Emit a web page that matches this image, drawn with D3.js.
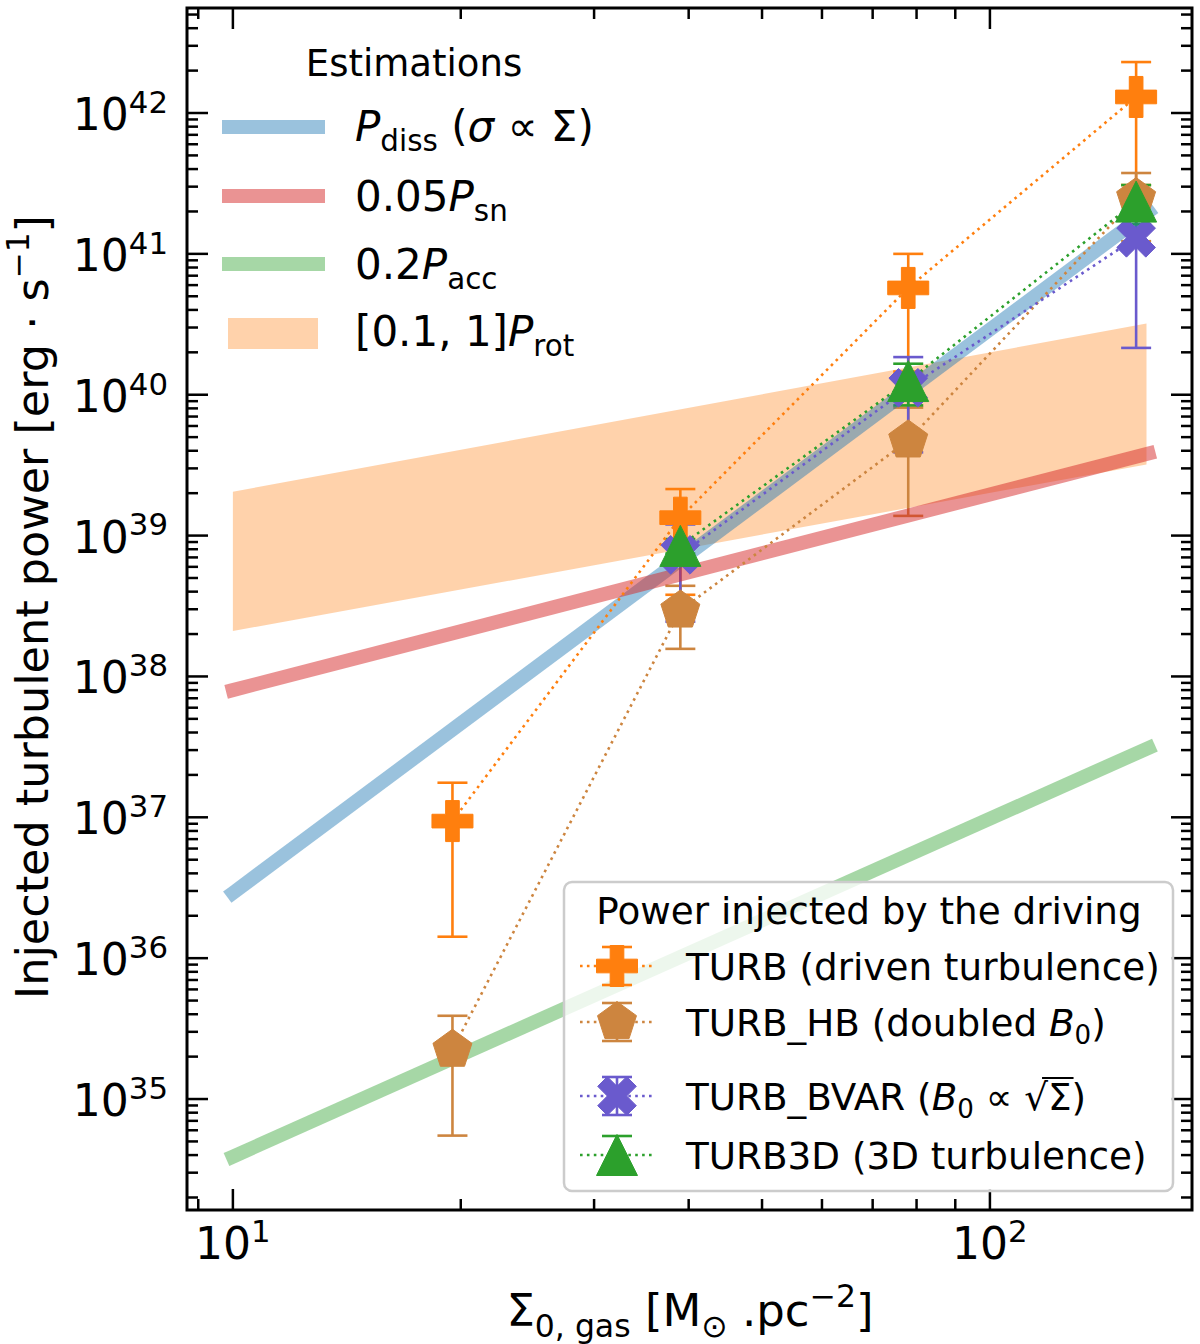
<!DOCTYPE html>
<html><head><meta charset="utf-8">
<script src="https://cdn.jsdelivr.net/npm/d3@7"></script>
<style>body{margin:0;background:#fff} text{font-family:"DejaVu Sans",sans-serif;fill:#000}</style>
</head><body><svg id="c" width="1200" height="1344"></svg>
<script>
// ---------------- DATA ----------------
const sigma = [19.5, 39, 78, 156];
const turbY  = [9.4e36, 1.34e39, 5.73e40, 1.3e42];
const turbLo = [1.42e36, 3.8e38, 1.46e40, 3.08e41];
const turbHi = [1.76e37, 2.14e39, 1.0e41, 2.3e42];
const hbY  = [2.24e35, 2.94e38, 4.74e39, 2.49e41];
const hbLo = [5.5e34, 1.57e38, 1.38e39, 1.23e41];
const hbHi = [3.9e35, 4.4e38, 8.1e39, 3.75e41];
const sigma3 = [39, 78, 156];
const bvarY  = [7.3e38, 1.12e40, 1.3e41];
const bvarLo = [2.45e38, 3.9e39, 2.15e40];
const bvarHi = [1.2e39, 1.85e40, 2.4e41];
const t3dY  = [8.45e38, 1.25e40, 2.35e41];
const t3dLo = [7.45e38, 8.4e39, 1.62e41];
const t3dHi = [9.45e38, 1.66e40, 3.08e41];

const estX = [10, 162];
const pdissY = [2.9e36, 2.0e41];
const psnY   = [8.0e37, 3.83e39];
const paccY  = [3.9e34, 3.11e37];
const rotX = [10, 161];
const rotLo = [2.1e38, 3.2e39];
const rotHi = [2.05e39, 3.2e40];

const xDomain = [8.6973, 184.9];
const yDomain = [1.63e34, 5.565e42];
const xMajor = [10, 100];
const xMajorExp = ["1", "2"];
const yMajorExp = [35, 36, 37, 38, 39, 40, 41, 42];

const estLegend = ["Estimations"];
const seriesLegendTitle = "Power injected by the driving";

// ---------------- SETUP ----------------
const svg = d3.select('#c');
const L = 187, R = 1192, T = 8, B = 1210;
const x = d3.scaleLog().domain(xDomain).range([L, R]);
const y = d3.scaleLog().domain(yDomain).range([B, T]);

svg.append('defs').append('clipPath').attr('id','clip')
  .append('rect').attr('x',L).attr('y',T).attr('width',R-L).attr('height',B-T);

function rich(g, px, py, parts, size, anchor) {
  const t = g.append('text').attr('x',px).attr('y',py).attr('font-size',size)
    .attr('text-anchor',anchor||'start');
  let shift = 0;
  parts.forEach(p => {
    const ts = t.append('tspan').text(p.t);
    let target = 0, fs = size;
    if (p.sub) { target = size*(p.sd||0.22); fs = size*0.7; }
    if (p.sup) { target = -size*(p.su||0.4); fs = size*0.7; }
    ts.attr('dy', target - shift).attr('font-size', fs);
    shift = target;
    if (p.i) ts.attr('font-style','italic');
  });
  return t;
}

const C = {turb:'#ff7f0e', hb:'#cd853f', bvar:'#6a5acd', t3d:'#2ca02c'};
const MS = 41;

function markerPath(type, s) {
  const h = s/2;
  if (type === 'plus' || type === 'x') {
    const pts = [[-1,-3],[1,-3],[1,-1],[3,-1],[3,1],[1,1],[1,3],[-1,3],[-1,1],[-3,1],[-3,-1],[-1,-1]]
      .map(([a,b]) => [a*s/6, b*s/6]);
    let P = pts;
    if (type === 'x') {
      const c = Math.SQRT1_2;
      P = pts.map(([a,b]) => [(a-b)*c, (a+b)*c]);
    }
    return 'M' + P.map(p => p.join(',')).join('L') + 'Z';
  }
  if (type === 'tri') return `M0,${-h}L${-h},${h}L${h},${h}Z`;
  if (type === 'pent') {
    const P = d3.range(5).map(k => {
      const a = (-90 + 72*k) * Math.PI/180;
      return [h*Math.cos(a), h*Math.sin(a)];
    });
    return 'M' + P.map(p => p.join(',')).join('L') + 'Z';
  }
}

// ---------------- BAND ----------------
const plot = svg.append('g').attr('clip-path','url(#clip)');
const bandData = rotX.map((v,i) => ({x:v, lo:rotLo[i], hi:rotHi[i]}));
plot.append('path').datum(bandData)
  .attr('d', d3.area().x(d => x(d.x)).y0(d => y(d.lo)).y1(d => y(d.hi)))
  .attr('fill', C.turb).attr('fill-opacity', 0.35);

// ---------------- ERROR BARS (below everything else) ----------------
const series = [
  {key:'turb', xs:sigma,  ys:turbY, lo:turbLo, hi:turbHi, m:'plus'},
  {key:'hb',   xs:sigma,  ys:hbY,   lo:hbLo,   hi:hbHi,   m:'pent'},
  {key:'bvar', xs:sigma3, ys:bvarY, lo:bvarLo, hi:bvarHi, m:'x'},
  {key:'t3d',  xs:sigma3, ys:t3dY,  lo:t3dLo,  hi:t3dHi,  m:'tri'},
];
const CAP = 15;
series.forEach(s => {
  const g = plot.append('g');
  s.xs.forEach((xv,i) => {
    const cx = x(xv);
    g.append('line').attr('x1',cx).attr('x2',cx).attr('y1',y(s.lo[i])).attr('y2',y(s.hi[i]))
      .attr('stroke',C[s.key]).attr('stroke-width',2.6);
    [s.lo[i], s.hi[i]].forEach(v => {
      g.append('line').attr('x1',cx-CAP).attr('x2',cx+CAP).attr('y1',y(v)).attr('y2',y(v))
        .attr('stroke',C[s.key]).attr('stroke-width',2.6);
    });
  });
});

// ---------------- ESTIMATION LINES ----------------
const line = d3.line().x(d => x(d[0])).y(d => y(d[1]));
[[pdissY,'#1f77b4',0.45],[psnY,'#d62728',0.5],[paccY,'#2ca02c',0.42]].forEach(([ys,col,op]) => {
  plot.append('path').datum(estX.map((v,i) => [v, ys[i]]))
    .attr('d', line).attr('fill','none').attr('stroke',col).attr('stroke-opacity',op)
    .attr('stroke-width',14).attr('stroke-linecap','square');
});

// ---------------- SERIES LINES + MARKERS ----------------
series.forEach(s => {
  plot.append('path').datum(s.xs.map((v,i) => [v, s.ys[i]]))
    .attr('d', line).attr('fill','none').attr('stroke',C[s.key])
    .attr('stroke-width',2.6).attr('stroke-dasharray','2.6,4.3');
  s.xs.forEach((xv,i) => {
    svg.append('path').attr('d', markerPath(s.m, MS))
      .attr('transform',`translate(${x(xv)},${y(s.ys[i])})`)
      .attr('fill',C[s.key]).attr('stroke',C[s.key]).attr('stroke-width',1);
  });
});

// ---------------- AXES FRAME & TICKS ----------------
const ax = svg.append('g');
const MAJ = 21, MIN = 11, TW = 2.5;
const xMinor = [];
for (let d = 0; d <= 2; d++) for (let k = 2; k <= 9; k++) {
  const v = k*Math.pow(10,d); if (v > xDomain[0] && v < xDomain[1]) xMinor.push(v);
}
function xt(v, len) {
  ax.append('line').attr('x1',x(v)).attr('x2',x(v)).attr('y1',B).attr('y2',B-len).attr('stroke','#000').attr('stroke-width',TW);
  ax.append('line').attr('x1',x(v)).attr('x2',x(v)).attr('y1',T).attr('y2',T+len).attr('stroke','#000').attr('stroke-width',TW);
}
xMajor.forEach(v => xt(v, MAJ));
xMinor.forEach(v => xt(v, MIN));
const yMinor = [];
for (let d = 34; d <= 42; d++) for (let k = 2; k <= 9; k++) {
  const v = k*Math.pow(10,d); if (v > yDomain[0] && v < yDomain[1]) yMinor.push(v);
}
function yt(v, len) {
  ax.append('line').attr('x1',L).attr('x2',L+len).attr('y1',y(v)).attr('y2',y(v)).attr('stroke','#000').attr('stroke-width',TW);
  ax.append('line').attr('x1',R).attr('x2',R-len).attr('y1',y(v)).attr('y2',y(v)).attr('stroke','#000').attr('stroke-width',TW);
}
yMajorExp.forEach(e => yt(Math.pow(10,e), MAJ));
yMinor.forEach(v => yt(v, MIN));
ax.append('rect').attr('x',L).attr('y',T).attr('width',R-L).attr('height',B-T)
  .attr('fill','none').attr('stroke','#000').attr('stroke-width',3);

// tick labels
yMajorExp.forEach(e => {
  rich(svg, 168, y(Math.pow(10,e)) + 17, [{t:'10'},{t:String(e), sup:true, su:0.39}], 44, 'end');
});
xMajor.forEach((v,i) => {
  rich(svg, x(v), 1259, [{t:'10'},{t:xMajorExp[i], sup:true, su:0.39}], 44, 'middle');
});

// axis labels
rich(svg, 690, 1326, [{t:'Σ'},{t:'0, gas', sub:true, sd:0.25},{t:' [M'},{t:'⊙', sub:true, sd:0.25},{t:' .pc'},{t:'−2', sup:true, su:0.42},{t:']'}], 45, 'middle');
const yl = svg.append('g').attr('transform','translate(48,607) rotate(-90)');
rich(yl, 0, 0, [{t:'Injected turbulent power [erg · s'},{t:'−1', sup:true, su:0.42},{t:']'}], 44.5, 'middle');

// ---------------- LEGEND 1 ----------------
const lg1 = svg.append('g');
lg1.append('text').attr('x',414).attr('y',76).attr('text-anchor','middle').attr('font-size',37).text(estLegend[0]);
const l1 = [
  {col:'#1f77b4', op:0.45, cy:127, base:141, parts:[{t:'P',i:true},{t:'diss',sub:true, sd:0.24},{t:' ('},{t:'σ',i:true},{t:' ∝ Σ)'}]},
  {col:'#d62728', op:0.5,  cy:196, base:211, parts:[{t:'0.05'},{t:'P',i:true},{t:'sn',sub:true, sd:0.24}]},
  {col:'#2ca02c', op:0.42, cy:264, base:279, parts:[{t:'0.2'},{t:'P',i:true},{t:'acc',sub:true, sd:0.24}]},
];
l1.forEach(e => {
  lg1.append('line').attr('x1',222).attr('x2',325).attr('y1',e.cy).attr('y2',e.cy)
    .attr('stroke',e.col).attr('stroke-opacity',e.op).attr('stroke-width',14);
  rich(lg1, 355, e.base, e.parts, 42);
});
lg1.append('rect').attr('x',228).attr('y',318).attr('width',90).attr('height',31)
  .attr('fill',C.turb).attr('fill-opacity',0.35);
rich(lg1, 355, 346, [{t:'[0.1, 1]'},{t:'P',i:true},{t:'rot',sub:true, sd:0.24}], 42);

// ---------------- LEGEND 2 ----------------
const lg2 = svg.append('g');
lg2.append('rect').attr('x',564).attr('y',882).attr('width',609).attr('height',309).attr('rx',8)
  .attr('fill','#fff').attr('fill-opacity',0.8).attr('stroke','#cccccc').attr('stroke-width',2.5);
lg2.append('text').attr('x',869).attr('y',924).attr('text-anchor','middle').attr('font-size',37.3).text(seriesLegendTitle);
const l2 = [
  {s:series[0], cy:966,  parts:[{t:'TURB (driven turbulence)'}]},
  {s:series[1], cy:1022, parts:[{t:'TURB_HB (doubled '},{t:'B',i:true},{t:'0',sub:true},{t:')'}]},
  {s:series[2], cy:1096, parts:[{t:'TURB_BVAR ('},{t:'B',i:true},{t:'0',sub:true},{t:' ∝ √Σ)'}]},
  {s:series[3], cy:1155, parts:[{t:'TURB3D (3D turbulence)'}]},
];
l2.forEach(e => {
  const col = C[e.s.key];
  const mx = 617;
  [e.cy-19, e.cy+19].forEach(cy => lg2.append('line').attr('x1',mx-CAP).attr('x2',mx+CAP).attr('y1',cy).attr('y2',cy).attr('stroke',col).attr('stroke-width',2.6));
  lg2.append('line').attr('x1',mx).attr('x2',mx).attr('y1',e.cy-19).attr('y2',e.cy+19).attr('stroke',col).attr('stroke-width',2.6);
  lg2.append('line').attr('x1',580).attr('x2',652).attr('y1',e.cy).attr('y2',e.cy)
    .attr('stroke',col).attr('stroke-width',2.6).attr('stroke-dasharray','2.6,4.3');
  lg2.append('path').attr('d', markerPath(e.s.m, MS)).attr('transform',`translate(${mx},${e.cy})`)
    .attr('fill',col).attr('stroke',col).attr('stroke-width',1);
  const t = rich(lg2, 686, e.cy + 14, e.parts, 37.3);
  const full = e.parts.map(p => p.t).join('');
  const si = full.indexOf('√');
  if (si >= 0) {
    const n = t.node();
    const r1 = n.getExtentOfChar(si), r2 = n.getExtentOfChar(si+1);
    const yTop = r1.y + 3;
    lg2.append('line').attr('x1', r1.x + r1.width*0.75).attr('x2', r2.x + r2.width + 2)
      .attr('y1', yTop).attr('y2', yTop).attr('stroke','#000').attr('stroke-width',2);
  }
});
</script></body></html>
